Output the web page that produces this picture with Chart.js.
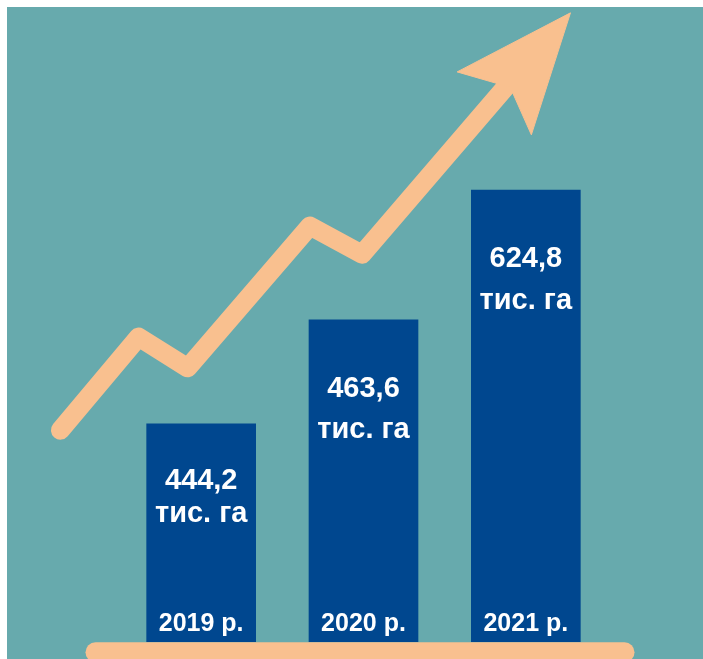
<!DOCTYPE html>
<html>
<head>
<meta charset="utf-8">
<script src="https://cdn.jsdelivr.net/npm/chart.js@4"></script>
<style>
  body { margin: 0; background: #ffffff; }
  canvas { display: block; }
</style>
</head>
<body>
<canvas id="areaChart" width="703" height="659"></canvas>
<script>
// years and sown area (thousand ha)
var years = ["2019 р.", "2020 р.", "2021 р."];
var areas = ["444,2", "463,6", "624,8"];
// bar heights as drawn in the picture (relative level, 0-100)
var barLevel = [34.0, 50.2, 70.4];

// decorative trend arrow, x in bar index units, y in the same level units
var arrowX = [-0.867, -0.386, -0.083, 0.670, 0.991, 1.966];
var arrowY = [33.0, 47.5, 42.7, 64.8, 60.4, 89.1];
var headX = [2.275, 1.577, 1.904, 2.034, 2.275];
var headY = [98.0, 88.8, 86.4, 79.0, 98.0];
var baseX = [-0.651, 2.608];
var baseY = [-1.6, -1.6];

var teal = "#67aaad";
var navy = "#00478f";
var peach = "#f9c08f";

function toPoints(xs, ys) {
  return xs.map(function (x, i) { return { x: x, y: ys[i] }; });
}

// teal panel behind everything
var panelPlugin = {
  id: "panel",
  beforeDraw: function (chart) {
    var c = chart.ctx;
    c.save();
    c.fillStyle = teal;
    c.fillRect(7, 7, chart.width - 7, chart.height - 7);
    c.restore();
  }
};

// text inside the bars
var labelPlugin = {
  id: "barText",
  afterDatasetsDraw: function (chart) {
    var c = chart.ctx;
    var meta = chart.getDatasetMeta(0);
    var offs = [[65, 98], [77, 118], [77, 119]];
    c.save();
    c.fillStyle = "#ffffff";
    c.textAlign = "center";
    c.textBaseline = "alphabetic";
    meta.data.forEach(function (bar, i) {
      c.font = "bold 29px 'Liberation Sans', Arial, sans-serif";
      c.fillText(areas[i], bar.x, bar.y + offs[i][0]);
      c.fillText("тис. га", bar.x, bar.y + offs[i][1]);
      c.font = "bold 25px 'Liberation Sans', Arial, sans-serif";
      c.fillText(years[i], bar.x, chart.chartArea.bottom - 11);
    });
    c.restore();
  }
};

new Chart("areaChart", {
  type: "bar",
  data: {
    datasets: [
      {
        data: toPoints([0, 1, 2], barLevel),
        backgroundColor: navy,
        barThickness: 109,
        order: 2
      },
      {
        type: "line",
        data: toPoints(arrowX, arrowY),
        borderColor: peach,
        borderWidth: 19,
        borderCapStyle: "round",
        borderJoinStyle: "round",
        pointRadius: 0,
        tension: 0,
        fill: false,
        clip: false,
        order: 1
      },
      {
        type: "line",
        data: toPoints(headX, headY),
        borderColor: peach,
        borderWidth: 1,
        backgroundColor: peach,
        pointRadius: 0,
        tension: 0,
        fill: "shape",
        clip: false,
        order: 0
      },
      {
        type: "line",
        data: toPoints(baseX, baseY),
        borderColor: peach,
        borderWidth: 20,
        borderCapStyle: "round",
        pointRadius: 0,
        fill: false,
        clip: false,
        order: 0
      }
    ]
  },
  options: {
    responsive: false,
    animation: false,
    layout: { padding: { left: 120, right: 96, top: 0, bottom: 17 } },
    plugins: {
      legend: { display: false },
      tooltip: { enabled: false },
      title: { display: false }
    },
    scales: {
      x: { type: "linear", display: false, offset: false, min: -0.5, max: 2.5 },
      y: { display: false, min: 0, max: 100 }
    }
  },
  plugins: [panelPlugin, labelPlugin]
});
</script>
</body>
</html>
